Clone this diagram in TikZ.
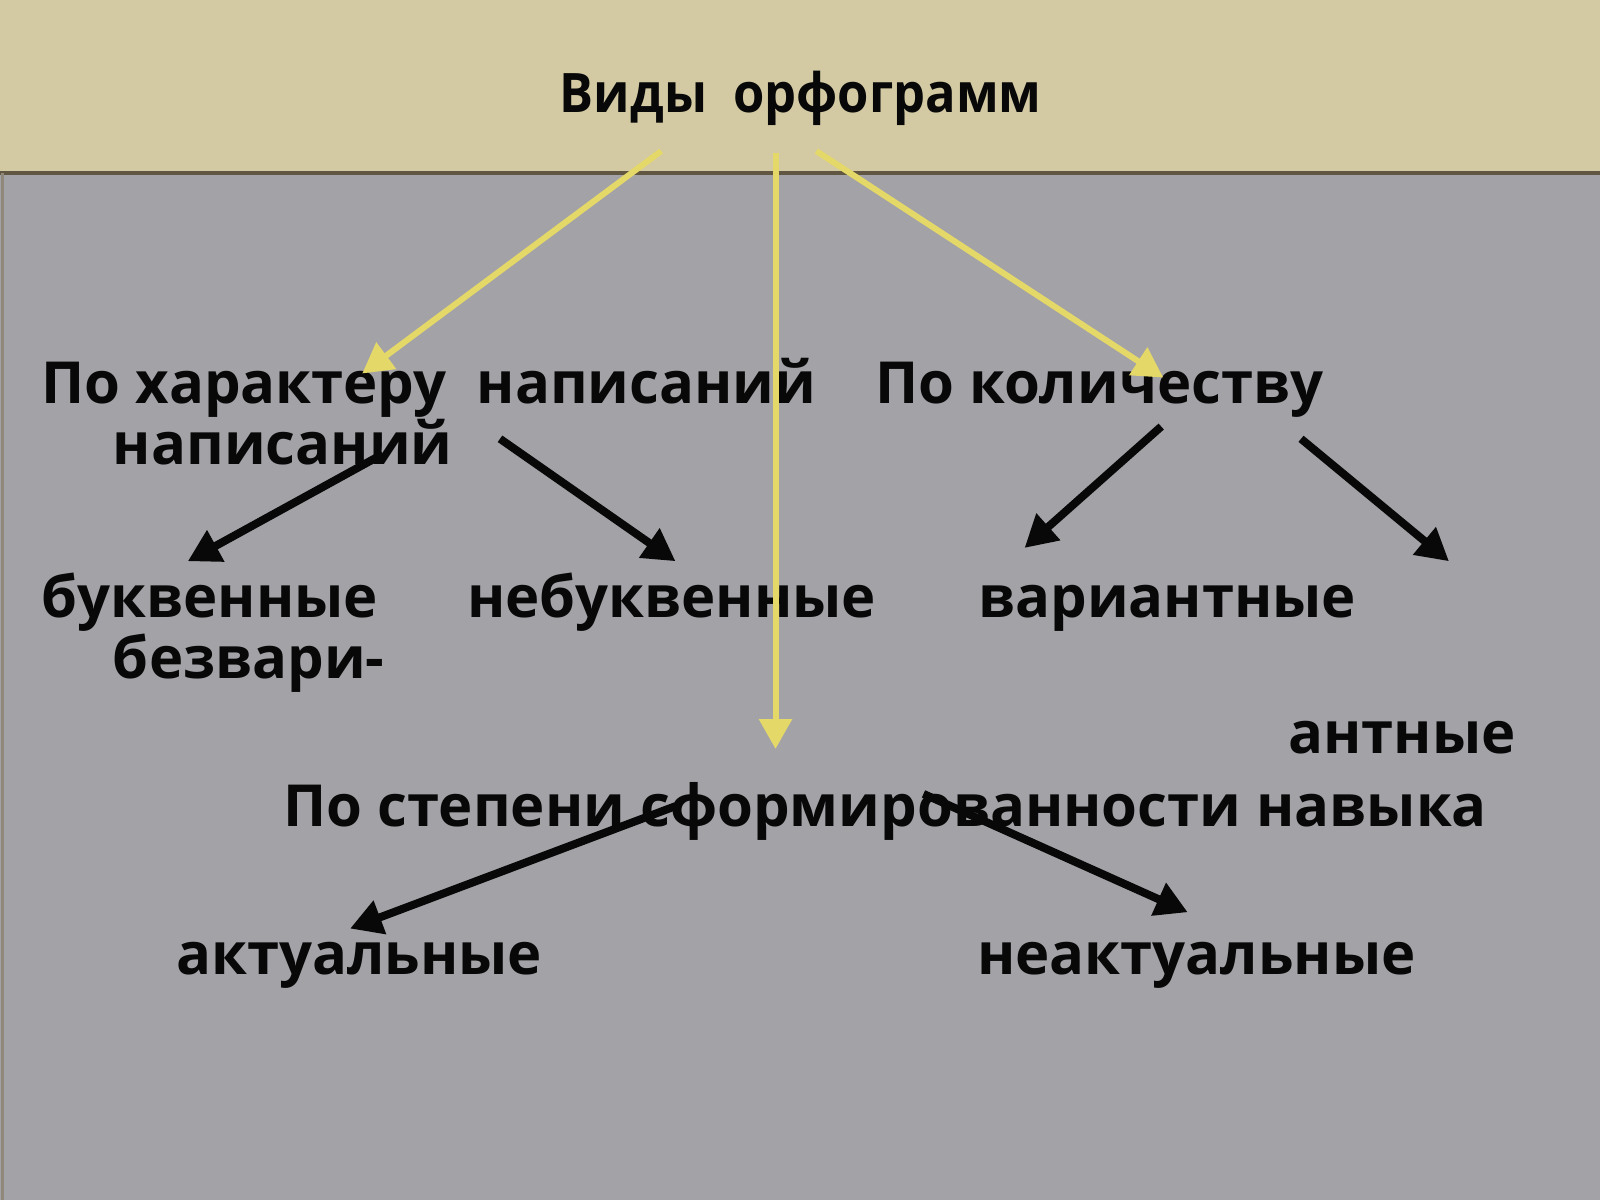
\documentclass[tikz,border=0pt]{standalone}
\usepackage{fontspec}
\setmainfont{Open Sans}
\usepackage{xcolor}
\usepackage{tikz}
\usetikzlibrary{arrows.meta, positioning}
\definecolor{bandtan}{RGB}{211, 202, 164}
\definecolor{slategray}{RGB}{163, 162, 167}
\definecolor{edgebrown}{RGB}{96, 86, 66}
\definecolor{arrowyellow}{RGB}{228, 216, 104}
\definecolor{inkblack}{RGB}{8, 8, 8}

\tikzset{
    label/.style={anchor=base west, inner sep=0pt, text=inkblack, font=\fontsize{16.5}{18}\selectfont\bfseries},
    yarrow/.style={-{Triangle[length=0.3cm, width=0.32cm]}, line width=0.06cm, arrowyellow},
    barrow/.style={-{Triangle[length=0.32cm, width=0.34cm]}, line width=0.08cm, inkblack}
}

\begin{document}
\begin{tikzpicture}[x=0.0102041cm, y=-0.0102041cm]
            % Background
            \useasboundingbox (0, 0) rectangle (1568, 1176);
            \fill[slategray] (0, 0) rectangle (1568, 1176);
            \fill[bandtan] (0, 0) rectangle (1568, 170);
            \draw[edgebrown, line width=0.04cm] (0, 170) -- (1568, 170);
            \draw[edgebrown!70, line width=0.03cm] (2, 170) -- (2, 1176);

            % Title
            \node[label, font=\fontsize{15.5}{18}\selectfont\bfseries] (title) at (548, 110)
                {\scalebox{0.93}[1]{Виды\ \ орфограмм}};

            % Groups
            \node[label] (character) at (40, 395) {По характеру\ \ написаний};
            \node[label] (character2) at (110, 455) {написаний};
            \node[label] (quantity) at (857, 395) {По количеству};
            \node[label] (degree) at (277, 810) {По степени сформированности навыка};

            % Kinds
            \node[label] (letter) at (40, 605) {буквенные};
            \node[label] (novar) at (110, 665) {безвари-};
            \node[label] (nonletter) at (457, 605) {небуквенные};
            \node[label] (variant) at (958, 605) {вариантные};
            \node[label] (novar2) at (1262, 738) {антные};
            \node[label] (actual) at (172, 955) {актуальные};
            \node[label] (nonactual) at (957, 955) {неактуальные};

            % Arrow ends
            \coordinate (t1) at (648, 148);
            \coordinate (t2) at (760, 150);
            \coordinate (t3) at (800, 148);
            \coordinate (c1) at (355, 366);
            \coordinate (d1) at (760, 734);
            \coordinate (q1) at (1140, 370);
            \coordinate (cs1) at (375, 445);
            \coordinate (cs2) at (490, 430);
            \coordinate (ce1) at (184, 550);
            \coordinate (ce2) at (662, 550);
            \coordinate (qs1) at (1138, 418);
            \coordinate (qs2) at (1275, 430);
            \coordinate (qe1) at (1004, 537);
            \coordinate (qe2) at (1420, 550);
            \coordinate (ds1) at (662, 790);
            \coordinate (ds2) at (905, 778);
            \coordinate (de1) at (343, 910);
            \coordinate (de2) at (1164, 894);

            % Yellow arrows
            \draw[yarrow] (t1) -- (c1);
            \draw[yarrow] (t2) -- (d1);
            \draw[yarrow] (t3) -- (q1);

            % Black arrows
            \draw[barrow] (cs1) -- (ce1);
            \draw[barrow] (cs2) -- (ce2);
            \draw[barrow] (qs1) -- (qe1);
            \draw[barrow] (qs2) -- (qe2);
            \draw[barrow] (ds1) -- (de1);
            \draw[barrow] (ds2) -- (de2);
\end{tikzpicture}
\end{document}
